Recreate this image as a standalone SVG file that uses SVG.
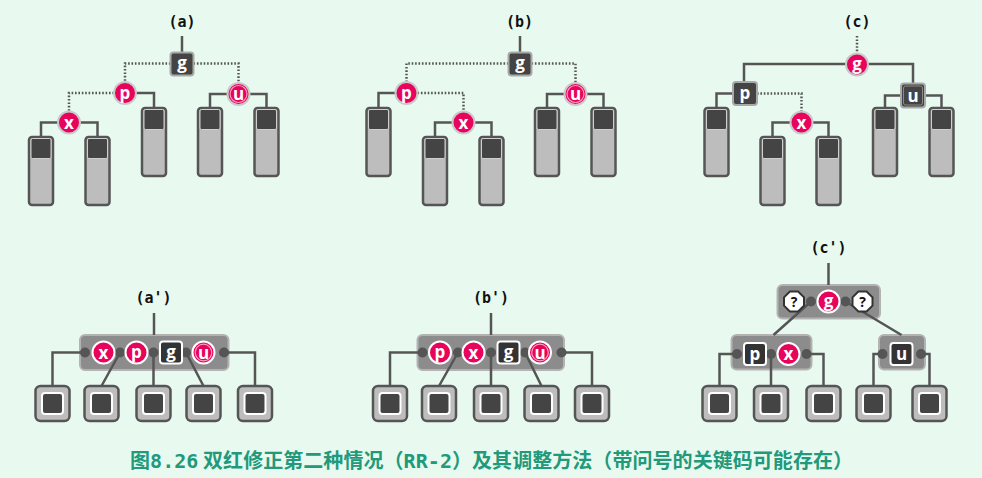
<svg xmlns="http://www.w3.org/2000/svg" xmlns:xlink="http://www.w3.org/1999/xlink" width="982" height="478" viewBox="0 0 982 478">
<style>
.ln{fill:none;stroke:#555;stroke-width:2.5}
.dt{fill:none;stroke:#555;stroke-width:2.5;stroke-dasharray:1.6 1.8}
.lbl{font-family:"DejaVu Sans Mono","Liberation Mono",monospace;font-weight:bold;font-size:15px;fill:#111;text-anchor:middle}
.k{font-family:"Open Sans","DejaVu Sans",sans-serif;font-weight:bold;font-size:17px;fill:#fff;text-anchor:middle}
.q{font-family:"Open Sans","DejaVu Sans",sans-serif;font-weight:bold;font-size:14px;fill:#111;text-anchor:middle}
.rc{fill:#e8045c;stroke:#c9c9c9;stroke-width:2}
.rcw{fill:#e8045c;stroke:#fff;stroke-width:2}
.ring{fill:none;stroke:#ff9cc0;stroke-width:1.2}
.bk{fill:#444;stroke:#a9a9a9;stroke-width:2}
.bkw{fill:#333;stroke:#fff;stroke-width:2}
.sn{fill:#8c8c8c;stroke:#b3b3b3;stroke-width:2}
.port{fill:#555}
.cap{font-family:"Noto Sans CJK SC","Noto Sans",sans-serif;font-weight:bold;font-size:20px;fill:#21997a}
.capm{font-family:"DejaVu Sans Mono","Liberation Mono",monospace;font-weight:bold}
</style>
<defs>
<g id="leafT">
<rect x="-12" y="0" width="24" height="68" rx="3" fill="#bdbdbd" stroke="#555" stroke-width="2.5"/>
<rect x="-10" y="1.5" width="20" height="20" rx="1.5" fill="#444" stroke="#cfcfcf" stroke-width="1"/>
</g>
<g id="leafB">
<rect x="-17" y="0" width="34" height="35" rx="5" fill="#bdbdbd" stroke="#555" stroke-width="2.5"/>
<rect x="-10.5" y="7" width="21" height="21" rx="3" fill="#444" stroke="#fff" stroke-width="2"/>
</g>
</defs>
<rect width="982" height="478" fill="#e8faf0"/>

<!-- labels -->
<g id="labels">
<text class="lbl" x="182" y="27">(a)</text>
<text class="lbl" x="519.5" y="27">(b)</text>
<text class="lbl" x="857" y="27">(c)</text>
<text class="lbl" x="153.5" y="303">(a')</text>
<text class="lbl" x="491" y="303">(b')</text>
<text class="lbl" x="828.5" y="253">(c')</text>
</g>

<!-- super-node containers -->
<g id="containers">
<rect id="ap-box" class="sn" x="80" y="335" width="148.5" height="35" rx="5"/>
<rect id="bp-box" class="sn" x="417.5" y="335" width="146.5" height="35" rx="5"/>
<rect id="cp-top-box" class="sn" x="777.5" y="285" width="102.5" height="33.5" rx="5"/>
<rect id="cp-left-box" class="sn" x="731.5" y="335" width="80" height="34.5" rx="5"/>
<rect id="cp-right-box" class="sn" x="879" y="335" width="46" height="34.5" rx="5"/>
</g>

<g id="connectors">
<!-- (a) -->
<path class="ln" d="M182,36 V53"/>
<path class="dt" d="M170.5,63.5 H125 V82"/>
<path class="dt" d="M114,93 H69 V111"/>
<path class="ln" d="M58,122.5 H41 V137 M80,122.5 H97.5 V137"/>
<path class="ln" d="M136,93 H154 V108"/>
<path class="dt" d="M193.5,63.5 H238.5 V83"/>
<path class="ln" d="M227.5,94 H210 V108 M249.5,94 H266.5 V108"/>
<!-- (b) -->
<path class="ln" d="M520,36 V53"/>
<path class="dt" d="M508.5,63.5 H406.5 V82"/>
<path class="ln" d="M395.5,93 H378.5 V108"/>
<path class="dt" d="M417.5,93 H463.5 V111"/>
<path class="ln" d="M452.5,122.5 H435 V137 M474.5,122.5 H491.5 V137"/>
<path class="dt" d="M531.5,63.5 H575.5 V83"/>
<path class="ln" d="M564.5,94 H547 V108 M586.5,94 H603.5 V108"/>
<!-- (c) -->
<path class="dt" d="M857,36 V53"/>
<path class="ln" d="M846,64 H744 V82"/>
<path class="ln" d="M733,93.5 H716.5 V108"/>
<path class="dt" d="M757,93.5 H801.5 V111"/>
<path class="ln" d="M790.5,122.5 H772.5 V137 M812.5,122.5 H828.5 V137"/>
<path class="ln" d="M868,64 H913 V83"/>
<path class="ln" d="M901,95.5 H885 V108 M925,95.5 H941.5 V108"/>
<!-- (a') -->
<path class="ln" d="M154,313 V335"/>
<path class="ln" d="M85,352.5 H52.5 V386 M120,352.5 L101.5,386 M153.5,352.5 V386 M186,352.5 L203.5,386 M224,352.5 H255 V386"/>
<!-- (b') -->
<path class="ln" d="M491,313 V335"/>
<path class="ln" d="M422.5,352.5 H390 V386 M458,352.5 L439,386 M491,352.5 V386 M525,352.5 L541.5,386 M561.5,352.5 H592 V386"/>
<!-- (c') -->
<path class="ln" d="M828.5,263 V285"/>
<path class="ln" d="M811,301.5 L773.5,335 M845.5,301.5 L901.5,335"/>
<path class="ln" d="M737,354 H719.5 V386 M771,354 V386 M806.5,354 H823.5 V386 M882.5,354 H873.5 V386 M921,354 H929.5 V386"/>
</g>

<g id="ports">
<circle class="port" cx="85" cy="352.5" r="5"/><circle class="port" cx="120" cy="352.5" r="5"/><circle class="port" cx="153.5" cy="352.5" r="5"/><circle class="port" cx="186" cy="352.5" r="5"/><circle class="port" cx="224" cy="352.5" r="5"/>
<circle class="port" cx="422.5" cy="352.5" r="5"/><circle class="port" cx="458" cy="352.5" r="5"/><circle class="port" cx="491" cy="352.5" r="5"/><circle class="port" cx="525" cy="352.5" r="5"/><circle class="port" cx="561.5" cy="352.5" r="5"/>
<circle class="port" cx="811" cy="301.5" r="5"/><circle class="port" cx="845.5" cy="301.5" r="5"/>
<circle class="port" cx="737" cy="354" r="5"/><circle class="port" cx="771" cy="354" r="5"/><circle class="port" cx="806.5" cy="354" r="5"/>
<circle class="port" cx="882.5" cy="354" r="5"/><circle class="port" cx="921" cy="354" r="5"/>
</g>

<!-- (a) nodes -->
<g id="a-g"><rect class="bk" x="170.5" y="52.5" width="23" height="23" rx="3"/><text class="k" x="182" y="69">g</text></g>
<g id="a-p"><circle class="rc" cx="125" cy="93" r="11"/><text class="k" x="125" y="98.5">p</text></g>
<g id="a-x"><circle class="rc" cx="69" cy="122.5" r="11"/><text class="k" x="69" y="128.5">x</text></g>
<g id="a-u"><circle class="rc" cx="238.5" cy="94" r="11"/><circle class="ring" cx="238.5" cy="94" r="8.5"/><text class="k" x="238.5" y="100">u</text></g>
<g id="a-leaves">
<use xlink:href="#leafT" x="41" y="137"/><use xlink:href="#leafT" x="97.5" y="137"/><use xlink:href="#leafT" x="154" y="108"/><use xlink:href="#leafT" x="210" y="108"/><use xlink:href="#leafT" x="266.5" y="108"/>
</g>

<!-- (b) nodes -->
<g id="b-g"><rect class="bk" x="508.5" y="52.5" width="23" height="23" rx="3"/><text class="k" x="520" y="69">g</text></g>
<g id="b-p"><circle class="rc" cx="406.5" cy="93" r="11"/><text class="k" x="406.5" y="98.5">p</text></g>
<g id="b-x"><circle class="rc" cx="463.5" cy="122.5" r="11"/><text class="k" x="463.5" y="128.5">x</text></g>
<g id="b-u"><circle class="rc" cx="575.5" cy="94" r="11"/><circle class="ring" cx="575.5" cy="94" r="8.5"/><text class="k" x="575.5" y="100">u</text></g>
<g id="b-leaves">
<use xlink:href="#leafT" x="378.5" y="108"/><use xlink:href="#leafT" x="435" y="137"/><use xlink:href="#leafT" x="491.5" y="137"/><use xlink:href="#leafT" x="547" y="108"/><use xlink:href="#leafT" x="603.5" y="108"/>
</g>

<!-- (c) nodes -->
<g id="c-g"><circle class="rc" cx="857" cy="64.5" r="11"/><text class="k" x="857" y="69.5">g</text></g>
<g id="c-p"><rect class="bk" x="733" y="82" width="24" height="23" rx="3"/><text class="k" x="745" y="98.5">p</text></g>
<g id="c-x"><circle class="rc" cx="801.5" cy="122.5" r="11"/><text class="k" x="801.5" y="128.5">x</text></g>
<g id="c-u"><rect class="bk" x="901" y="83.5" width="24" height="24" rx="3"/><rect x="903.5" y="86" width="19" height="19" rx="2" fill="none" stroke="#8a8a8a" stroke-width="1"/><text class="k" x="913" y="101.5">u</text></g>
<g id="c-leaves">
<use xlink:href="#leafT" x="716.5" y="108"/><use xlink:href="#leafT" x="772.5" y="137"/><use xlink:href="#leafT" x="828.5" y="137"/><use xlink:href="#leafT" x="885" y="108"/><use xlink:href="#leafT" x="941.5" y="108"/>
</g>

<!-- (a') nodes -->
<g id="ap-x"><circle class="rcw" cx="103.5" cy="352.5" r="11"/><text class="k" x="103.5" y="358.5">x</text></g>
<g id="ap-p"><circle class="rcw" cx="136.5" cy="352.5" r="11"/><text class="k" x="136.5" y="358">p</text></g>
<g id="ap-g"><rect class="bkw" x="160" y="341.5" width="22" height="22" rx="3"/><text class="k" x="171" y="358">g</text></g>
<g id="ap-u"><circle class="rcw" cx="203.5" cy="352.5" r="11"/><circle class="ring" cx="203.5" cy="352.5" r="8.3"/><text class="k" x="203.5" y="358.5">u</text></g>
<g id="ap-leaves">
<use xlink:href="#leafB" x="52.5" y="386"/><use xlink:href="#leafB" x="101.5" y="386"/><use xlink:href="#leafB" x="153.5" y="386"/><use xlink:href="#leafB" x="203.5" y="386"/><use xlink:href="#leafB" x="255" y="386"/>
</g>

<!-- (b') nodes -->
<g id="bp-p"><circle class="rcw" cx="440" cy="352.5" r="11"/><text class="k" x="440" y="358">p</text></g>
<g id="bp-x"><circle class="rcw" cx="473.5" cy="352.5" r="11"/><text class="k" x="473.5" y="358.5">x</text></g>
<g id="bp-g"><rect class="bkw" x="497.5" y="341.5" width="22" height="22" rx="3"/><text class="k" x="508.5" y="358">g</text></g>
<g id="bp-u"><circle class="rcw" cx="540" cy="352.5" r="11"/><circle class="ring" cx="540" cy="352.5" r="8.3"/><text class="k" x="540" y="358.5">u</text></g>
<g id="bp-leaves">
<use xlink:href="#leafB" x="390" y="386"/><use xlink:href="#leafB" x="439" y="386"/><use xlink:href="#leafB" x="491" y="386"/><use xlink:href="#leafB" x="541.5" y="386"/><use xlink:href="#leafB" x="592" y="386"/>
</g>

<!-- (c') nodes -->
<g id="cp-q1"><polygon points="789.9,291.5 798.1,291.5 804,297.4 804,305.6 798.1,311.5 789.9,311.5 784,305.6 784,297.4" fill="#fff" stroke="#333" stroke-width="2"/><text class="q" x="794" y="306.5">?</text></g>
<g id="cp-g"><circle class="rcw" cx="828.5" cy="301.5" r="11"/><text class="k" x="828.5" y="307">g</text></g>
<g id="cp-q2"><polygon points="858.4,291.5 866.6,291.5 872.5,297.4 872.5,305.6 866.6,311.5 858.4,311.5 852.5,305.6 852.5,297.4" fill="#fff" stroke="#333" stroke-width="2"/><text class="q" x="862.5" y="306.5">?</text></g>
<g id="cp-p"><rect class="bkw" x="744" y="343" width="22" height="22" rx="3"/><text class="k" x="755" y="359.5">p</text></g>
<g id="cp-x"><circle class="rcw" cx="788.5" cy="354" r="11"/><text class="k" x="788.5" y="360">x</text></g>
<g id="cp-u"><rect class="bkw" x="890.5" y="343" width="22" height="22" rx="3"/><text class="k" x="901.5" y="360">u</text></g>
<g id="cp-leaves">
<use xlink:href="#leafB" x="719.5" y="386"/><use xlink:href="#leafB" x="771" y="386"/><use xlink:href="#leafB" x="823.5" y="386"/><use xlink:href="#leafB" x="873.5" y="386"/><use xlink:href="#leafB" x="929.5" y="386"/>
</g>

<text class="cap" x="130" y="468" textLength="723" lengthAdjust="spacing">图<tspan class="capm">8.26</tspan> 双红修正第二种情况（<tspan class="capm">RR-2</tspan>）及其调整方法（带问号的关键码可能存在）</text>
</svg>
